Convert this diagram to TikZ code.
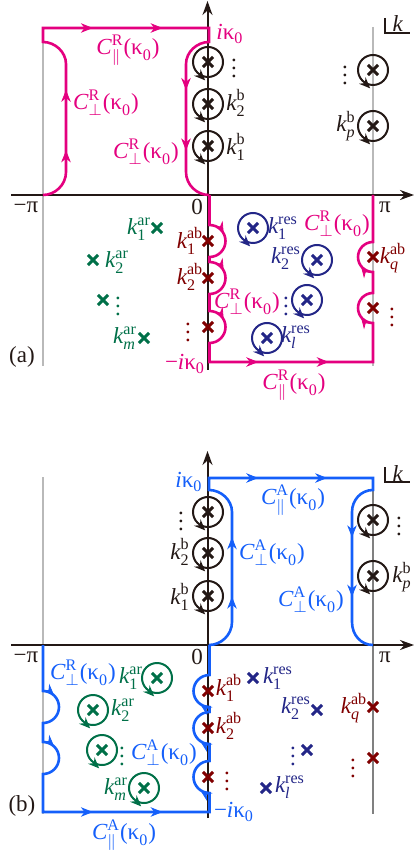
\documentclass[tikz,border=0pt]{standalone}
\usepackage{amsmath}
\usepackage{fontspec}
\setmainfont{Liberation Serif}
\usetikzlibrary{arrows.meta, decorations.markings, shapes.misc}

\definecolor{mag}{RGB}{228,0,127}
\definecolor{blu}{RGB}{20,95,250}
\definecolor{navy}{RGB}{35,38,135}
\definecolor{grn}{RGB}{0,112,72}
\definecolor{dred}{RGB}{128,0,0}
\definecolor{axisc}{RGB}{35,24,21}
\definecolor{wallc}{RGB}{185,185,185}

\newcommand{\kv}[2]{$\textit{k}^{\text{#1}}_{\text{#2}}$}
\newcommand{\Cv}[2]{$\textit{C}^{\text{#1}}_{#2}\text{(κ}_{\text{0}}\text{)}$}
\newcommand{\ik}{$\textit{i}\text{κ}_{\text{0}}$}

\begin{document}
\begin{tikzpicture}[
    x=0.5pt, y=-0.5pt,
    font=\fontsize{11.5}{13}\selectfont,
    axis/.style={draw=axisc, line width=1pt, -{Stealth[length=7pt, width=5pt]}},
    wall/.style={draw=wallc, line width=1pt},
    contour/.style={draw=#1, line width=1.3pt},
    loopc/.style={draw=#1, line width=1pt, postaction={decorate},
        decoration={markings, mark=at position 0.375 with {\arrow{Stealth[length=5.5pt, width=4.5pt, reversed]}}}},
    pole/.style={cross out, draw=#1, line width=1.5pt, minimum size=3.6pt, inner sep=0pt},
    lbl/.style={inner sep=0pt, text=#1},
    tipat/.style={postaction={decorate},
        decoration={markings, mark=at position #1 with {\arrow{Stealth[length=6pt, width=4.8pt]}}}},
    tipsat/.style 2 args={postaction={decorate},
        decoration={markings, mark=at position #1 with {\arrow{Stealth[length=6pt, width=4.8pt]}},
                               mark=at position #2 with {\arrow{Stealth[length=6pt, width=4.8pt]}}}},
]
\useasboundingbox (0,0) rectangle (417,854);

% ================= (a) retarded contour =================

% walls at -pi and pi
\draw[wall] (43,27) -- (43,366);
\draw[wall] (373,27) -- (373,366);

% axes
\draw[axis] (11,195) -- (414,195);
\draw[axis] (207.5,370) -- (207.5,1);

% upper half of C^R
\draw[contour=mag] (43,195) .. controls (55,195) and (66,185) .. (66,172) -- (66,64)
    .. controls (66,52) and (55,42) .. (43,42) -- (43,28) -- (209,28) -- (209,42)
    .. controls (197,42) and (186,52) .. (186,64) -- (186,172)
    .. controls (186,185) and (197,195) .. (209,195);
\path[mag, tipsat={0.2}{0.76}] (66,172) -- (66,64);
\path[mag, tipsat={0.3}{0.72}] (43,28) -- (209,28);
\path[mag, tipsat={0.24}{0.8}] (186,64) -- (186,172);

% lower half of C^R
\draw[contour=mag] (209.5,195) -- (209.5,225) arc[start angle=-90, end angle=90, radius=16]
    -- (209.5,262) arc[start angle=-90, end angle=90, radius=16]
    -- (209.5,311) arc[start angle=-90, end angle=90, radius=16]
    -- (209.5,362) -- (373,362) -- (373,323) arc[start angle=90, end angle=270, radius=15]
    -- (373,272) arc[start angle=90, end angle=270, radius=15] -- (373,195);
\foreach \c in {241,278,327}
    \path[mag, tipat=0.35] (209.5,{\c-16}) arc[start angle=-90, end angle=90, radius=16];
\foreach \c in {257,308}
    \path[mag, tipat=0.3] (373,{\c+15}) arc[start angle=90, end angle=270, radius=15];
\path[mag, tipsat={0.3}{0.73}] (209,362) -- (373,362);

% bound states
\foreach \n/\c in {1/146,2/104,3/62} {
    \node[pole=axisc] (ba\n) at (208,\c) {};
    \draw[loopc=axisc] (ba\n) circle[radius=15];
}
\foreach \n/\c in {p/126,q/70} {
    \node[pole=axisc] (bpa\n) at (373,\c) {};
    \draw[loopc=axisc] (bpa\n) circle[radius=15];
}

% resonances
\foreach \n/\x/\y in {1/253/228,2/317/260,3/307/300,4/267/338} {
    \node[pole=navy] (ra\n) at (\x,\y) {};
    \draw[loopc=navy] (ra\n) circle[radius=15];
}

% anti-resonances and anti-bound states
\foreach \n/\x/\y in {1/157/228,2/93/260,3/103/300,4/144/338}
    \node[pole=grn] (ara\n) at (\x,\y) {};
\foreach \n/\y in {1/241,2/278,3/327}
    \node[pole=dred] (aba\n) at (208,\y) {};
\foreach \n/\y in {1/257,2/308}
    \node[pole=dred] (abpa\n) at (373,\y) {};

% labels
\node[lbl=mag] (cpa1) at (128,50) {\Cv{R}{\parallel}};
\node[lbl=mag] (cpa2) at (106,103) {\Cv{R}{\perp}};
\node[lbl=mag] (cpa3) at (146,152) {\Cv{R}{\perp}};
\node[lbl=mag] (cpa4) at (337,224) {\Cv{R}{\perp}};
\node[lbl=mag] (cpa5) at (247,302) {\Cv{R}{\perp}};
\node[lbl=mag] (cpa6) at (294,385) {\Cv{R}{\parallel}};
\node[lbl=mag] (ika) at (230,34) {\ik};
\node[lbl=mag] (mika) at (185,364) {−\ik};

\node[lbl=axisc] (dba) at (234,62) {$\vdots$};
\node[lbl=axisc] (kb2a) at (236,103) {\kv{b}{2}};
\node[lbl=axisc] (kb1a) at (236,147) {\kv{b}{1}};
\node[lbl=axisc] (dbpa) at (345,69) {$\vdots$};
\node[lbl=axisc] (kbpa) at (346,126) {\kv{b}{\textit{p}}};

\node[lbl=axisc] (mpia) at (26,207) {−π};
\node[lbl=axisc] (zera) at (197,207) {0};
\node[lbl=axisc] (pia) at (385,207) {π};
\node[lbl=axisc] (laba) at (22,357) {(a)};

\node[lbl=grn] (kar1a) at (139,229) {\kv{ar}{1}};
\node[lbl=grn] (kar2a) at (117,262) {\kv{ar}{2}};
\node[lbl=grn] (dara) at (118,300) {$\vdots$};
\node[lbl=grn] (karma) at (125,338) {\kv{ar}{\textit{m}}};

\node[lbl=dred] (kab1a) at (190,241) {\kv{ab}{1}};
\node[lbl=dred] (kab2a) at (190,277) {\kv{ab}{2}};
\node[lbl=dred] (daba) at (188,326) {$\vdots$};
\node[lbl=dred] (kabqa) at (393,258) {\kv{ab}{\textit{q}}};
\node[lbl=dred] (dabqa) at (392,311) {$\vdots$};

\node[lbl=navy] (kres1a) at (283,228) {\kv{res}{1}};
\node[lbl=navy] (kres2a) at (286,258) {\kv{res}{2}};
\node[lbl=navy] (dresa) at (286,300) {$\vdots$};
\node[lbl=navy] (kresla) at (296,337) {\kv{res}{\textit{l}}};

\draw[axisc, line width=0.6pt] (385,18) |- (410,33);
\node[lbl=axisc] (kplanea) at (398,24) {\textit{k}};

% ================= (b) advanced contour =================

\draw[wall] (43,477) -- (43,814);
\draw[wall, draw=gray] (373,477) -- (373,814);

\draw[axis] (11,645) -- (414,645);
\draw[axis] (207.5,818) -- (207.5,451);

% upper half of C^A
\draw[contour=blu] (209,645) .. controls (221,645) and (232,635) .. (232,622) -- (232,512)
    .. controls (232,500) and (221,490) .. (209,490) -- (209,478) -- (373,478) -- (373,490)
    .. controls (361,490) and (352,500) .. (352,512) -- (352,622)
    .. controls (352,635) and (361,645) .. (373,645);
\path[blu, tipsat={0.23}{0.77}] (232,622) -- (232,512);
\path[blu, tipsat={0.3}{0.72}] (209,478) -- (373,478);
\path[blu, tipsat={0.23}{0.77}] (352,512) -- (352,622);

% lower half of C^A
\draw[contour=blu] (43,645) -- (43,691) arc[start angle=-90, end angle=90, radius=16]
    -- (43,742) arc[start angle=-90, end angle=90, radius=16]
    -- (43,812) -- (209.5,812) -- (209.5,793) arc[start angle=90, end angle=270, radius=16]
    -- (209.5,744) arc[start angle=90, end angle=270, radius=16]
    -- (209.5,707) arc[start angle=90, end angle=270, radius=16] -- (209.5,645);
\foreach \c in {707,758}
    \path[blu, tipat=0.25] (43,{\c-16}) arc[start angle=-90, end angle=90, radius=16];
\foreach \c in {691,728,777}
    \path[blu, tipat=0.2] (209.5,{\c+16}) arc[start angle=90, end angle=270, radius=16];
\path[blu, tipsat={0.3}{0.72}] (43,812) -- (209,812);

% bound states
\foreach \n/\c in {1/596,2/553,3/512} {
    \node[pole=axisc] (bb\n) at (208,\c) {};
    \draw[loopc=axisc] (bb\n) circle[radius=15];
}
\foreach \n/\c in {p/576,q/520} {
    \node[pole=axisc] (bpb\n) at (373,\c) {};
    \draw[loopc=axisc] (bpb\n) circle[radius=15];
}

% anti-resonances
\foreach \n/\x/\y in {1/157/678,2/93/710,3/102/750,4/144/788} {
    \node[pole=grn] (arb\n) at (\x,\y) {};
    \draw[loopc=grn] (arb\n) circle[radius=15];
}

% resonances and anti-bound states
\foreach \n/\x/\y in {1/253/678,2/317/710,3/307/750,4/266/788}
    \node[pole=navy] (rb\n) at (\x,\y) {};
\foreach \n/\y in {1/691,2/728,3/777}
    \node[pole=dred] (abb\n) at (208,\y) {};
\foreach \n/\y in {1/707,2/758}
    \node[pole=dred] (abpb\n) at (373,\y) {};

% labels
\node[lbl=blu] (cpb1) at (293,500) {\Cv{A}{\parallel}};
\node[lbl=blu] (cpb2) at (272,553) {\Cv{A}{\perp}};
\node[lbl=blu] (cpb3) at (311,600) {\Cv{A}{\perp}};
\node[lbl=blu] (cpb4) at (83,673) {\Cv{R}{\perp}};
\node[lbl=blu] (cpb5) at (164,753) {\Cv{A}{\perp}};
\node[lbl=blu] (cpb6) at (124,835) {\Cv{A}{\parallel}};
\node[lbl=blu] (ikb) at (189,482) {\ik};
\node[lbl=blu] (mikb) at (234,812) {−\ik};

\node[lbl=axisc] (dbb) at (181,515) {$\vdots$};
\node[lbl=axisc] (kb2b) at (180,552) {\kv{b}{2}};
\node[lbl=axisc] (kb1b) at (180,597) {\kv{b}{1}};
\node[lbl=axisc] (dbpb) at (399,520) {$\vdots$};
\node[lbl=axisc] (kbpb) at (402,577) {\kv{b}{\textit{p}}};

\node[lbl=axisc] (mpib) at (26,657) {−π};
\node[lbl=axisc] (zerb) at (197,657) {0};
\node[lbl=axisc] (pib) at (385,657) {π};
\node[lbl=axisc] (labb) at (22,806) {(b)};

\node[lbl=grn] (kar1b) at (131,678) {\kv{ar}{1}};
\node[lbl=grn] (kar2b) at (123,710) {\kv{ar}{2}};
\node[lbl=grn] (darb) at (122,750) {$\vdots$};
\node[lbl=grn] (karmb) at (116,789) {\kv{ar}{\textit{m}}};

\node[lbl=dred] (kab1b) at (229,688) {\kv{ab}{1}};
\node[lbl=dred] (kab2b) at (229,726) {\kv{ab}{2}};
\node[lbl=dred] (dabb) at (227,775) {$\vdots$};
\node[lbl=dred] (kabqb) at (354,708) {\kv{ab}{\textit{q}}};
\node[lbl=dred] (dabqb) at (353,762) {$\vdots$};

\node[lbl=navy] (kres1b) at (278,678) {\kv{res}{1}};
\node[lbl=navy] (kres2b) at (296,708) {\kv{res}{2}};
\node[lbl=navy] (dresb) at (293,750) {$\vdots$};
\node[lbl=navy] (kreslb) at (290,787) {\kv{res}{\textit{l}}};

\draw[axisc, line width=0.6pt] (385,467) |- (410,482);
\node[lbl=axisc] (kplaneb) at (398,474) {\textit{k}};

\end{tikzpicture}
\end{document}
